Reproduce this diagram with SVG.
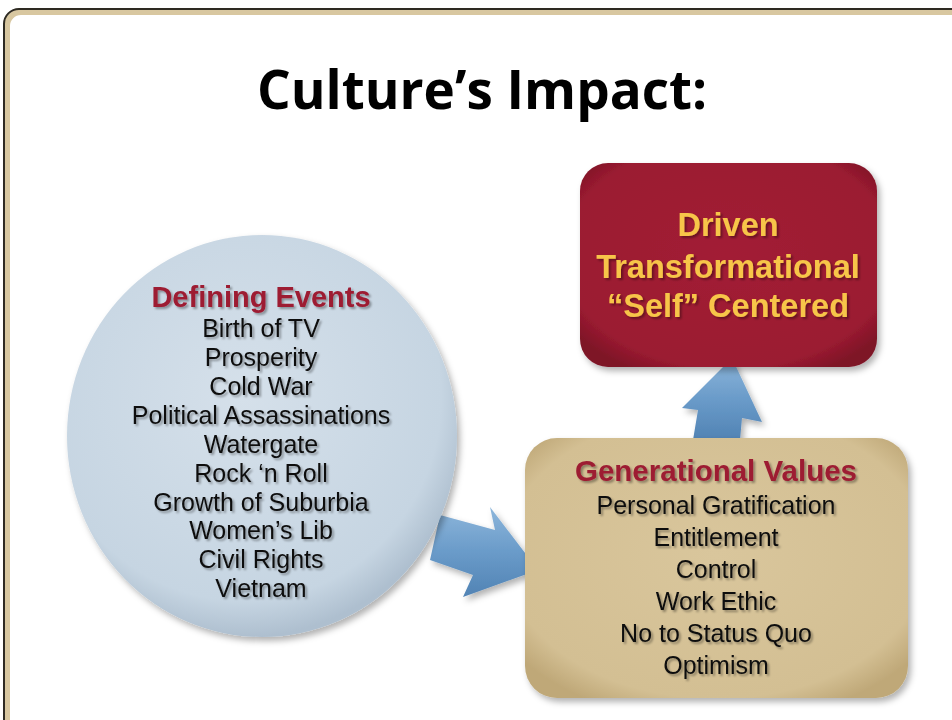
<svg xmlns="http://www.w3.org/2000/svg" width="952" height="720" viewBox="0 0 952 720">
<defs>
<filter id="ts" x="-10%" y="-30%" width="120%" height="160%"><feDropShadow dx="2" dy="2" stdDeviation="1.2" flood-color="#000" flood-opacity="0.35"/></filter>
<filter id="bs" x="-10%" y="-10%" width="125%" height="125%"><feDropShadow dx="3" dy="4" stdDeviation="3" flood-color="#000" flood-opacity="0.3"/></filter>
<radialGradient id="gCircle" cx="45%" cy="40%" r="60%"><stop offset="0" stop-color="#d5e0ea"/><stop offset="0.85" stop-color="#c6d5e2"/><stop offset="1" stop-color="#aebfcf"/></radialGradient>
<radialGradient id="gRed" cx="50%" cy="45%" r="65%"><stop offset="0" stop-color="#a21e35"/><stop offset="0.85" stop-color="#9b1b31"/><stop offset="1" stop-color="#7e1427"/></radialGradient>
<radialGradient id="gTan" cx="50%" cy="45%" r="65%"><stop offset="0" stop-color="#d9c69c"/><stop offset="0.85" stop-color="#d3bf93"/><stop offset="1" stop-color="#bfa878"/></radialGradient>
<linearGradient id="gArrow" x1="0" y1="0" x2="0" y2="1"><stop offset="0" stop-color="#8db6db"/><stop offset="0.5" stop-color="#6a9bc9"/><stop offset="1" stop-color="#5183b4"/></linearGradient>
<style>
.t{font-family:"Liberation Sans",Arial,sans-serif;text-anchor:middle}
.title{font-family:"Open Sans","Liberation Sans",sans-serif;font-weight:bold;font-size:53px;fill:#000}
.hd{font-weight:bold;fill:#9d1c33}
.it{fill:#111;font-size:25px}
.gold{font-weight:bold;fill:#f7c548;font-size:32.5px}
</style>
</defs>
<rect x="0" y="0" width="952" height="720" fill="#fff"/>
<rect x="7" y="12" width="970" height="730" rx="14" fill="#fff" stroke="#d8c7a0" stroke-width="6"/>
<rect x="4" y="9" width="974" height="734" rx="15" fill="none" stroke="#2e2a22" stroke-width="2"/>
<text class="t title" x="482" y="109">Culture’s Impact:</text>

<g id="connectors">
<g id="arrow-right" filter="url(#bs)">
<path d="M440,515 L495,530 L490,507 L538,570 L463,597 L473,575 L430,560 Z" fill="url(#gArrow)"/>
</g>
<g id="arrow-up" filter="url(#bs)">
<path d="M693,440 L698,410 L682,408 L732,358 L762,422 L742,418 L740,440 Z" fill="url(#gArrow)"/>
</g>
</g>

<g id="defining-events">
<ellipse cx="262" cy="436" rx="195" ry="201" fill="url(#gCircle)" filter="url(#bs)"/>
<g filter="url(#ts)">
<text class="t hd" x="261" y="307" font-size="29">Defining Events</text>
<text class="t it" x="261" y="337">Birth of TV</text>
<text class="t it" x="261" y="366">Prosperity</text>
<text class="t it" x="261" y="395">Cold War</text>
<text class="t it" x="261" y="424">Political Assassinations</text>
<text class="t it" x="261" y="453">Watergate</text>
<text class="t it" x="261" y="482">Rock ‘n Roll</text>
<text class="t it" x="261" y="511">Growth of Suburbia</text>
<text class="t it" x="261" y="539">Women’s Lib</text>
<text class="t it" x="261" y="568">Civil Rights</text>
<text class="t it" x="261" y="597">Vietnam</text>
</g>
</g>

<g id="generational-values">
<rect x="525" y="438" width="383" height="260" rx="32" fill="url(#gTan)" filter="url(#bs)"/>
<g filter="url(#ts)">
<text class="t hd" x="716" y="481" font-size="29.5">Generational Values</text>
<text class="t it" x="716" y="514">Personal Gratification</text>
<text class="t it" x="716" y="546">Entitlement</text>
<text class="t it" x="716" y="578">Control</text>
<text class="t it" x="716" y="610">Work Ethic</text>
<text class="t it" x="716" y="642">No to Status Quo</text>
<text class="t it" x="716" y="674">Optimism</text>
</g>
</g>

<g id="outcome">
<rect x="580" y="163" width="297" height="204" rx="28" fill="url(#gRed)" filter="url(#bs)"/>
<g filter="url(#ts)">
<text class="t gold" x="728" y="236">Driven</text>
<text class="t gold" x="728" y="278">Transformational</text>
<text class="t gold" x="728" y="317">“Self” Centered</text>
</g>
</g>
</svg>
